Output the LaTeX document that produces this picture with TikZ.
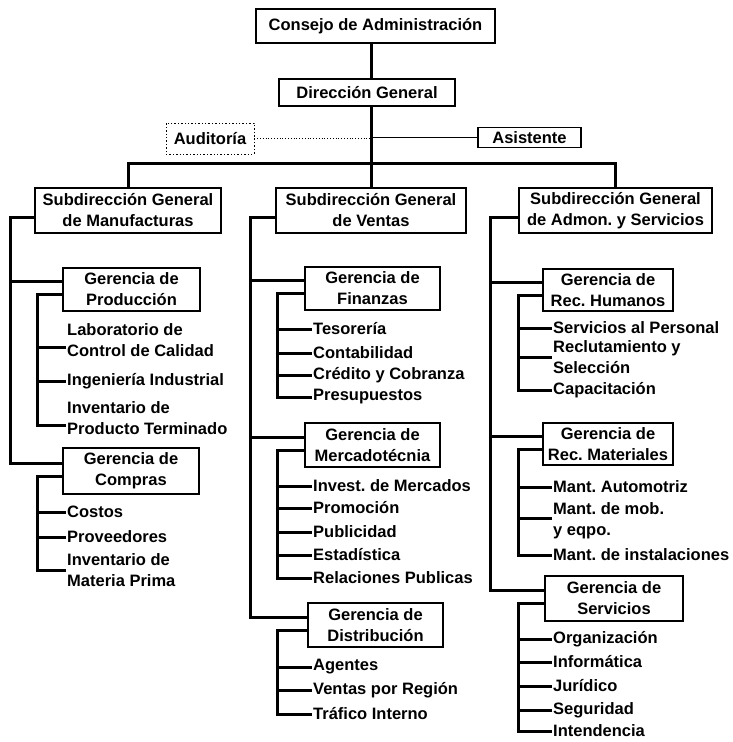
\documentclass[tikz,border=0pt]{standalone}
\usepackage{fontspec}
\setmainfont{Liberation Sans}
\usepackage{tikz}
\frenchspacing
\newcommand{\OrgFont}{\fontsize{16.5}{21}\selectfont\bfseries}
\NewDocumentCommand{\SubItem}{O{0pt} m m m m}{%
    \node [item] (#3) at (#4) {#5};
    \path ([yshift=#1]#3.west) coordinate (#3-k);
    \draw [conn] (#3-k) -- (#3-k -| #2);
}

\begin{document}
\begin{tikzpicture}[
    x=1pt, y=-1pt,
    box/.style={draw, line width=1.4pt, align=center, inner sep=1pt, font=\OrgFont},
    item/.style={anchor=west, align=left, inner sep=1pt, font=\OrgFont},
    conn/.style={line width=3pt},
    ]
    \useasboundingbox (0,0) rectangle (732,742);

    % top of the chart
    \node [box, minimum width=239pt, minimum height=34pt] (consejo) at (375.5,26) {Consejo de Administración};
    \node [box, minimum width=176pt, minimum height=27pt] (direccion) at (367,92.5) {Dirección General};
    \node [box, dotted, line width=0.8pt, minimum width=88pt, minimum height=31pt] (auditoria) at (210,138.5) {Auditoría};
    \node [box, minimum width=103pt, minimum height=20pt] (asistente) at (529.5,137.5) {Asistente};
    \coordinate (hub) at (371,137.5);
    \coordinate (bar) at (371,163);

    \node [box, minimum width=186pt, minimum height=45pt] (smanu) at (128,210.5) {Subdirección General\\de Manufacturas};
    \node [box, minimum width=190pt, minimum height=45pt] (sventas) at (371,210.5) {Subdirección General\\de Ventas};
    \node [box, minimum width=193pt, minimum height=45pt] (sadmon) at (615.5,210.5) {Subdirección General\\de Admon. y Servicios};

    \draw [conn] (consejo.south -| hub) -- (direccion.north -| hub);
    \draw [conn] (direccion.south -| hub) -- (sventas.north -| hub);
    \draw [conn] (smanu.north) |- (bar) -| (sadmon.north);
    \draw [line width=1.5pt] (hub) -- (asistente.west);
    \draw [dotted, line width=0.8pt] (auditoria.east) -- (auditoria.east -| hub);

    % Manufacturas
    \coordinate (lo) at (10,0);
    \coordinate (li) at (37,0);
    \node [box, minimum width=137pt, minimum height=43pt] (gprod) at (131.5,289.5) {Gerencia de\\Producción};
    \node [box, minimum width=136pt, minimum height=46pt] (gcomp) at (131,471) {Gerencia de\\Compras};
    \path ([yshift=8pt]gprod.west) coordinate (gprod-o)
          ([yshift=8pt]gcomp.west) coordinate (gcomp-o);
    \draw [conn] ([yshift=-7pt]smanu.west) -| (gcomp-o -| lo) -- (gcomp-o);
    \draw [conn] (gprod-o -| lo) -- (gprod-o);

    \SubItem[-7pt]{li}{lab}{66,340.5}{Laboratorio de\\Control de Calidad}
    \SubItem{li}{ing}{66,381}{Ingeniería Industrial}
    \SubItem[-7pt]{li}{invp}{66,418.5}{Inventario de\\Producto Terminado}
    \draw [conn] ([yshift=-5pt]gprod.west) -| (invp-k -| li) -- (invp-k);

    \SubItem{li}{costos}{66,512}{Costos}
    \SubItem{li}{prov}{66,537}{Proveedores}
    \SubItem{li}{invm}{66,570}{Inventario de\\Materia Prima}
    \draw [conn] ([yshift=-5pt]gcomp.west) -| (invm-k -| li) -- (invm-k);

    % Ventas
    \coordinate (mo) at (250,0);
    \coordinate (mi) at (277,0);
    \node [box, minimum width=135pt, minimum height=43pt] (gfin) at (372.5,288.5) {Gerencia de\\Finanzas};
    \node [box, minimum width=135pt, minimum height=44pt] (gmerc) at (372.5,445) {Gerencia de\\Mercadotécnia};
    \node [box, minimum width=135pt, minimum height=44pt] (gdist) at (375.5,625) {Gerencia de\\Distribución};
    \path ([yshift=8pt]gfin.west) coordinate (gfin-o)
          ([yshift=8pt]gmerc.west) coordinate (gmerc-o)
          ([yshift=8pt]gdist.west) coordinate (gdist-o);
    \draw [conn] ([yshift=-7pt]sventas.west) -| (gdist-o -| mo) -- (gdist-o);
    \draw [conn] (gfin-o -| mo) -- (gfin-o);
    \draw [conn] (gmerc-o -| mo) -- (gmerc-o);

    \SubItem{mi}{tes}{312,329}{Tesorería}
    \SubItem{mi}{cont}{312,353}{Contabilidad}
    \SubItem{mi}{cred}{312,375}{Crédito y Cobranza}
    \SubItem{mi}{pres}{312,397}{Presupuestos}
    \draw [conn] ([yshift=-5pt]gfin.west) -| (pres-k -| mi) -- (pres-k);

    \SubItem{mi}{imer}{312,486}{Invest. de Mercados}
    \SubItem{mi}{prom}{312,508}{Promoción}
    \SubItem{mi}{publ}{312,532}{Publicidad}
    \SubItem{mi}{esta}{312,555}{Estadística}
    \SubItem{mi}{rela}{312,578}{Relaciones Publicas}
    \draw [conn] ([yshift=-5pt]gmerc.west) -| (rela-k -| mi) -- (rela-k);

    \SubItem{mi}{agen}{312,667}{Agentes}
    \SubItem{mi}{vreg}{312,690}{Ventas por Región}
    \SubItem{mi}{traf}{312,714}{Tráfico Interno}
    \draw [conn] ([yshift=-5pt]gdist.west) -| (traf-k -| mi) -- (traf-k);

    % Admon. y Servicios
    \coordinate (ro) at (490,0);
    \coordinate (ri) at (518,0);
    \node [box, minimum width=130pt, minimum height=42pt] (grh) at (608,290) {Gerencia de\\Rec. Humanos};
    \node [box, minimum width=130pt, minimum height=42pt] (grm) at (608,444) {Gerencia de\\Rec. Materiales};
    \node [box, minimum width=138pt, minimum height=45pt] (gserv) at (614,598.5) {Gerencia de\\Servicios};
    \path ([yshift=8pt]grh.west) coordinate (grh-o)
          ([yshift=8pt]grm.west) coordinate (grm-o)
          ([yshift=8pt]gserv.west) coordinate (gserv-o);
    \draw [conn] ([yshift=-7pt]sadmon.west) -| (gserv-o -| ro) -- (gserv-o);
    \draw [conn] (grh-o -| ro) -- (grh-o);
    \draw [conn] (grm-o -| ro) -- (grm-o);

    \SubItem{ri}{sper}{552,328}{Servicios al Personal}
    \SubItem{ri}{recl}{552,357}{Reclutamiento y\\Selección}
    \SubItem{ri}{capa}{552,390}{Capacitación}
    \draw [conn] ([yshift=-5pt]grh.west) -| (capa-k -| ri) -- (capa-k);

    \SubItem{ri}{maut}{552,487}{Mant. Automotriz}
    \SubItem[3pt]{ri}{mmob}{552,521}{Mant. de mob.\\y eqpo.}
    \SubItem{ri}{mins}{552,555}{Mant. de instalaciones}
    \draw [conn] ([yshift=-5pt]grm.west) -| (mins-k -| ri) -- (mins-k);

    \SubItem{ri}{orga}{552,639}{Organización}
    \SubItem{ri}{info}{552,662}{Informática}
    \SubItem{ri}{juri}{552,686}{Jurídico}
    \SubItem{ri}{segu}{552,710}{Seguridad}
    \SubItem{ri}{inte}{552,731}{Intendencia}
    \draw [conn] ([yshift=-5pt]gserv.west) -| (inte-k -| ri) -- (inte-k);
\end{tikzpicture}
\end{document}
